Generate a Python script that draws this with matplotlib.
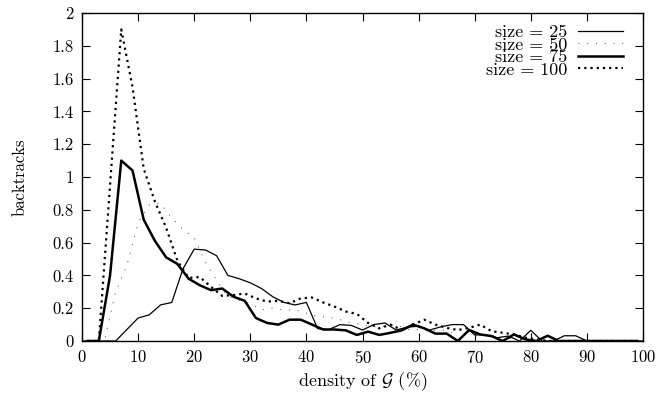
import numpy as np
import matplotlib.pyplot as plt

plt.rcParams['font.family'] = 'cmr10'
plt.rcParams['mathtext.fontset'] = 'cm'
plt.rcParams['axes.formatter.use_mathtext'] = True

# size = 25 (even densities)
x25 = [0, 2, 4, 6, 8, 10, 12, 14, 16, 18, 20, 22, 24, 26, 28, 30, 32, 34, 36, 38,
       40, 42, 44, 46, 48, 50, 52, 54, 56, 58, 60, 62, 64, 66, 68, 70, 72, 74, 76, 78,
       80, 82, 84, 86, 88, 90, 92, 94, 96, 98, 100]
y25 = [0, 0, 0, 0, 0.07, 0.14, 0.16, 0.22, 0.235, 0.44, 0.56, 0.555, 0.52, 0.40, 0.38,
       0.355, 0.32, 0.27, 0.235, 0.22, 0.235, 0.075, 0.07, 0.10, 0.095, 0.067, 0.10, 0.11,
       0.067, 0.085, 0.09, 0.067, 0.087, 0.10, 0.10, 0.037, 0.037, 0.02, 0.03, 0.0,
       0.065, 0.0, 0.0, 0.032, 0.032, 0, 0, 0, 0, 0, 0]

# size = 50
x50 = [0, 2, 4, 6, 8, 10, 12, 14, 16, 18, 20, 22, 24, 26, 28, 30, 32, 34, 36, 38,
       40, 42, 44, 46, 48, 50, 52, 54, 56, 58, 60, 62, 64, 66, 68, 70, 72, 74, 76, 78,
       80, 82, 84, 86, 88, 90, 92, 94, 96, 98, 100]
y50 = [0, 0, 0, 0.30, 0.46, 0.72, 0.83, 0.84, 0.75, 0.68, 0.63, 0.48, 0.37, 0.27, 0.25,
       0.23, 0.19, 0.20, 0.19, 0.19, 0.17, 0.15, 0.145, 0.13, 0.11, 0.10, 0.087, 0.09,
       0.10, 0.07, 0.07, 0.06, 0.07, 0.05, 0.07, 0.03, 0.04, 0.03, 0.02, 0.0,
       0, 0, 0, 0, 0, 0, 0, 0, 0, 0, 0]

# size = 75 (odd densities)
x75 = [1, 3, 5, 7, 9, 11, 13, 15, 17, 19, 21, 23, 25, 27, 29, 31, 33, 35, 37, 39,
       41, 43, 45, 47, 49, 51, 53, 55, 57, 59, 61, 63, 65, 67, 69, 71, 73, 75, 77, 79,
       81, 83, 85, 87, 89, 91, 93, 95, 97, 99]
y75 = [0, 0, 0.40, 1.10, 1.04, 0.74, 0.61, 0.51, 0.47, 0.38, 0.34, 0.31, 0.32, 0.27,
       0.245, 0.14, 0.11, 0.10, 0.13, 0.13, 0.10, 0.07, 0.07, 0.065, 0.037, 0.057, 0.037,
       0.05, 0.065, 0.10, 0.077, 0.045, 0.045, 0.0, 0.067, 0.04, 0.03, 0.0, 0.04, 0.01,
       0.0, 0.032, 0, 0, 0, 0, 0, 0, 0, 0]

# size = 100
x100 = [1, 3, 5, 7, 9, 11, 13, 15, 17, 19, 21, 23, 25, 27, 29, 31, 33, 35, 37, 39,
        41, 43, 45, 47, 49, 51, 53, 55, 57, 59, 61, 63, 65, 67, 69, 71, 73, 75, 77, 79,
        81, 83, 85, 87, 89, 91, 93, 95, 97, 99]
y100 = [0, 0, 0.95, 1.90, 1.55, 1.05, 0.85, 0.69, 0.49, 0.385, 0.39, 0.33, 0.275, 0.28,
        0.29, 0.26, 0.24, 0.245, 0.23, 0.26, 0.265, 0.235, 0.21, 0.18, 0.165, 0.11, 0.077,
        0.10, 0.067, 0.10, 0.13, 0.10, 0.08, 0.067, 0.08, 0.10, 0.06, 0.05, 0.04, 0.02,
        0.01, 0.0, 0, 0, 0, 0, 0, 0, 0, 0]

fig = plt.figure(figsize=(6.59, 3.97), dpi=100)
ax = fig.add_axes([82 / 659, 56 / 397, 561 / 659, 328 / 397])

ax.plot(x25, y25, color='black', lw=0.9, label='size = 25')
ax.plot(x50, y50, color='#444444', lw=0.7, ls=(0, (1, 8)), label='size = 50')
ax.plot(x75, y75, color='black', lw=1.8, label='size = 75')
ax.plot(x100, y100, color='black', lw=1.6, ls=(0, (1, 1.8)), label='size = 100')

ax.set_xlim(0, 100)
ax.set_ylim(0, 2)
ax.set_xticks(np.arange(0, 101, 10))
ax.set_yticks(np.arange(0, 2.01, 0.2))
ax.set_yticklabels(['%g' % round(v, 1) for v in np.arange(0, 2.01, 0.2)])
ax.tick_params(direction='in', top=True, right=True, length=6, width=0.8, labelsize=12, pad=6)
for s in ax.spines.values():
    s.set_linewidth(1.0)

ax.set_xlabel('density of $\\mathcal{G}$ (%)', fontsize=13, labelpad=3)
ax.set_ylabel('backtracks', fontsize=12, labelpad=18)

ax.legend(loc='upper right', frameon=False, markerfirst=False, fontsize=13,
          handlelength=2.5, handletextpad=0.6, labelspacing=-0.18,
          borderaxespad=0.25, bbox_to_anchor=(0.985, 1.0))

fig.savefig('out.png', dpi=100)
